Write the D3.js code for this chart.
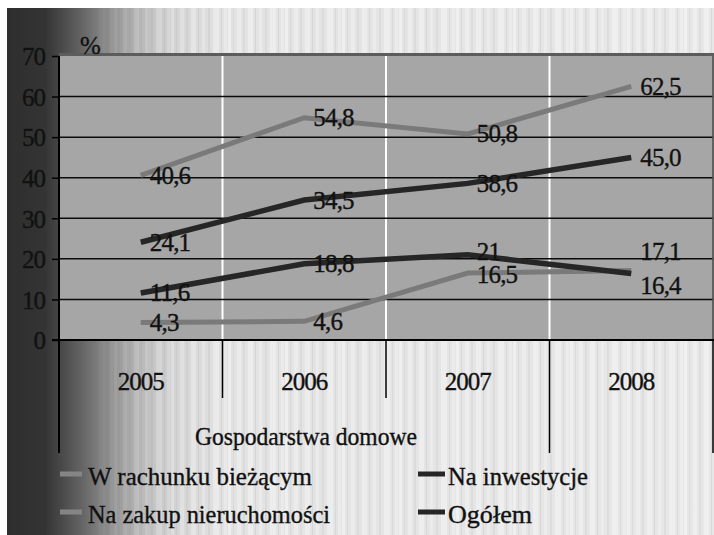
<!DOCTYPE html>
<html>
<head>
<meta charset="utf-8">
<script src="https://cdn.jsdelivr.net/npm/d3@7/dist/d3.min.js"></script>
<style>
  html, body { margin: 0; padding: 0; background: #fff; }
  svg { display: block; }
  svg text { stroke: #111; stroke-width: 0.35px; }
</style>
</head>
<body>
<svg id="chart" width="714" height="535"></svg>
<script>
// Categories and series (values kept as printed, comma decimal)
const years = ["2005", "2006", "2007", "2008"];
const groupLabels = ["Gospodarstwa domowe", ""];
const seriesNames = ["W rachunku bieżącym", "Na inwestycje", "Na zakup nieruchomości", "Ogółem"];
const rachunek = ["40,6", "54,8", "50,8", "62,5"];
const inwestycje = ["11,6", "18,8", "21", "16,4"];
const nieruchomosci = ["4,3", "4,6", "16,5", "17,1"];
const ogolem = ["24,1", "34,5", "38,6", "45,0"];
const yTicks = [0, 10, 20, 30, 40, 50, 60, 70];
const unitLabel = "%";

const FONT = '"Liberation Serif", "Times New Roman", serif';
const num = s => +s.replace(",", ".");

const svg = d3.select("#chart");
const W = 714, H = 535;
const plot = { left: 59, right: 713, top: 56, bottom: 340 };

// ---- textured backdrop: dark-to-light gradient with faint vertical stripes
const defs = svg.append("defs");
const grad = defs.append("linearGradient").attr("id", "bgGrad")
  .attr("gradientUnits", "userSpaceOnUse").attr("x1", 0).attr("x2", W).attr("y1", 0).attr("y2", 0);
[[7, "#2e2e2e"], [45, "#343434"], [60, "#474747"], [80, "#626262"], [100, "#808080"],
 [125, "#a4a4a4"], [150, "#c2c2c2"], [180, "#d6d6d6"], [230, "#e3e3e3"], [714, "#e7e7e7"]]
  .forEach(([x, c]) => grad.append("stop").attr("offset", x / W).attr("stop-color", c));

// stripes fade in only over the light part
const fade = defs.append("linearGradient").attr("id", "fadeGrad")
  .attr("gradientUnits", "userSpaceOnUse").attr("x1", 0).attr("x2", W).attr("y1", 0).attr("y2", 0);
[[0, 0], [90, 0], [200, 1], [714, 1]]
  .forEach(([x, o]) => fade.append("stop").attr("offset", x / W).attr("stop-color", "#fff").attr("stop-opacity", o));
defs.append("mask").attr("id", "fadeMask").attr("maskUnits", "userSpaceOnUse")
  .attr("x", 0).attr("y", 0).attr("width", W).attr("height", H)
  .append("rect").attr("width", W).attr("height", H).attr("fill", "url(#fadeGrad)");

const pat = defs.append("pattern").attr("id", "stripes")
  .attr("patternUnits", "userSpaceOnUse").attr("width", 57).attr("height", 10);
[[0, 3, "#fff", 0.4], [5, 1, "#000", 0.05], [9, 4, "#fff", 0.3], [15, 2, "#000", 0.04],
 [20, 5, "#fff", 0.35], [27, 1, "#000", 0.06], [31, 3, "#fff", 0.25], [37, 2, "#000", 0.04],
 [42, 6, "#fff", 0.35], [50, 1, "#000", 0.05], [53, 3, "#fff", 0.25]]
  .forEach(([x, w, c, o]) => pat.append("rect").attr("x", x).attr("y", 0)
    .attr("width", w).attr("height", 10).attr("fill", c).attr("fill-opacity", o));

svg.append("rect").attr("x", 7).attr("y", 8).attr("width", W - 7).attr("height", H - 8)
  .attr("fill", "url(#bgGrad)");
svg.append("rect").attr("x", 7).attr("y", 8).attr("width", W - 7).attr("height", H - 8)
  .attr("fill", "url(#stripes)").attr("mask", "url(#fadeMask)");

// ---- scales
const x = d3.scaleBand().domain(years).range([plot.left, plot.right]).padding(0);
const cx = d => x(d) + x.bandwidth() / 2;
const y = d3.scaleLinear().domain([0, 70]).range([plot.bottom, plot.top]);

// ---- plot area
svg.append("rect").attr("x", plot.left).attr("y", plot.top)
  .attr("width", plot.right - plot.left + 1).attr("height", plot.bottom - plot.top)
  .attr("fill", "#a6a6a6");

// white vertical separators between categories
svg.append("g").selectAll("line").data(years.slice(1)).join("line")
  .attr("x1", d => x(d)).attr("x2", d => x(d))
  .attr("y1", plot.top).attr("y2", plot.bottom)
  .attr("stroke", "#fff").attr("stroke-width", 2);

// horizontal gridlines + left axis
const yAxis = d3.axisLeft(y).tickValues(yTicks).tickSize(7).tickPadding(8).tickFormat(d3.format("d"));
const gy = svg.append("g").attr("transform", `translate(${plot.left},0)`).call(yAxis);
gy.select(".domain").remove();
gy.selectAll(".tick line").attr("stroke", "#000").attr("stroke-width", 1.5);
gy.selectAll(".tick text").attr("fill", "#111").attr("dy", "0.35em").attr("x", -14)
  .style("font-family", FONT).style("font-size", "25px").style("letter-spacing", "-1px");

svg.append("g").selectAll("line").data(yTicks.filter(t => t > 0 && t < 70)).join("line")
  .attr("x1", plot.left).attr("x2", plot.right)
  .attr("y1", d => y(d)).attr("y2", d => y(d))
  .attr("stroke", "#0a0a0a").attr("stroke-width", 1.5);

// top and right frame of the plot
svg.append("line").attr("x1", plot.left).attr("x2", W).attr("y1", plot.top - 1.5).attr("y2", plot.top - 1.5)
  .attr("stroke", "#5c5c5c").attr("stroke-width", 3);
svg.append("line").attr("x1", plot.right).attr("x2", plot.right).attr("y1", plot.top).attr("y2", plot.bottom)
  .attr("stroke", "#4a4a4a").attr("stroke-width", 1.5);

// ---- series lines
const line = d3.line().x((d, i) => cx(years[i])).y(d => y(num(d)));
const series = [
  { name: seriesNames[0], values: rachunek, color: "#7a7a7a", width: 5 },
  { name: seriesNames[2], values: nieruchomosci, color: "#7a7a7a", width: 5 },
  { name: seriesNames[1], values: inwestycje, color: "#262626", width: 5.5 },
  { name: seriesNames[3], values: ogolem, color: "#262626", width: 5.5 }
];
svg.append("g").selectAll("path").data(series).join("path")
  .attr("d", d => line(d.values))
  .attr("fill", "none").attr("stroke", d => d.color).attr("stroke-width", d => d.width)
  .attr("stroke-linejoin", "miter").attr("stroke-linecap", "butt");

// ---- value labels, right of each point; crowded labels are pulled apart
const nudge = { "Na zakup nieruchomości|3": -19, "Na inwestycje|3": 12, "Na inwestycje|2": -3, "Na zakup nieruchomości|2": 1 };
const labels = [];
series.forEach(s => s.values.forEach((v, i) => labels.push({ key: s.name + "|" + i, v, i })));
svg.append("g").selectAll("text").data(labels).join("text")
  .attr("x", d => cx(years[d.i]) + 9)
  .attr("y", d => y(num(d.v)) + (nudge[d.key] || 0) + 8.5)
  .attr("fill", "#111")
  .style("font-family", FONT).style("font-size", "25px").style("letter-spacing", "-0.8px")
  .text(d => d.v);

// unit label
svg.append("text").attr("x", 80).attr("y", 54).attr("fill", "#111")
  .style("font-family", FONT).style("font-size", "25px").text(unitLabel);

// ---- category axis (two levels)
const axisG = svg.append("g");
axisG.append("line").attr("x1", plot.left - 7).attr("x2", W).attr("y1", plot.bottom).attr("y2", plot.bottom)
  .attr("stroke", "#000").attr("stroke-width", 2);
axisG.append("line").attr("x1", plot.left).attr("x2", plot.left).attr("y1", plot.top).attr("y2", 453)
  .attr("stroke", "#000").attr("stroke-width", 2);
axisG.selectAll(".cat").data(years.slice(1)).join("line").attr("class", "cat")
  .attr("x1", d => x(d)).attr("x2", d => x(d)).attr("y1", plot.bottom).attr("y2", 398)
  .attr("stroke", "#000").attr("stroke-width", 1.5);
axisG.append("line").attr("x1", plot.right).attr("x2", plot.right).attr("y1", plot.bottom).attr("y2", 453)
  .attr("stroke", "#000").attr("stroke-width", 1.5);
axisG.append("line").attr("x1", x("2008")).attr("x2", x("2008")).attr("y1", 398).attr("y2", 453)
  .attr("stroke", "#000").attr("stroke-width", 1.5);
axisG.selectAll(".yr").data(years).join("text").attr("class", "yr")
  .attr("x", d => cx(d)).attr("y", 390).attr("text-anchor", "middle").attr("fill", "#111")
  .style("font-family", FONT).style("font-size", "25px").style("letter-spacing", "-1px")
  .text(d => d);
axisG.append("text").attr("x", 195).attr("y", 445).attr("fill", "#111")
  .attr("textLength", 222).attr("lengthAdjust", "spacingAndGlyphs")
  .style("font-family", FONT).style("font-size", "25px")
  .text(groupLabels[0]);

// ---- legend
const legendItems = [
  { name: seriesNames[0], color: "#858585", sx: 60, sw: 22, tx: 88, ty: 485, tl: 224 },
  { name: seriesNames[1], color: "#262626", sx: 418, sw: 27, tx: 448, ty: 485, tl: 140 },
  { name: seriesNames[2], color: "#858585", sx: 60, sw: 22, tx: 88, ty: 523, tl: 242 },
  { name: seriesNames[3], color: "#262626", sx: 418, sw: 27, tx: 448, ty: 523, tl: 84 }
];
const lg = svg.append("g").selectAll("g").data(legendItems).join("g");
lg.append("line").attr("x1", d => d.sx).attr("x2", d => d.sx + d.sw)
  .attr("y1", d => d.ty - 11).attr("y2", d => d.ty - 11)
  .attr("stroke", d => d.color).attr("stroke-width", 5);
lg.append("text").attr("x", d => d.tx).attr("y", d => d.ty).attr("fill", "#111")
  .attr("textLength", d => d.tl).attr("lengthAdjust", "spacingAndGlyphs")
  .style("font-family", FONT).style("font-size", "25px")
  .text(d => d.name);
</script>
</body>
</html>
